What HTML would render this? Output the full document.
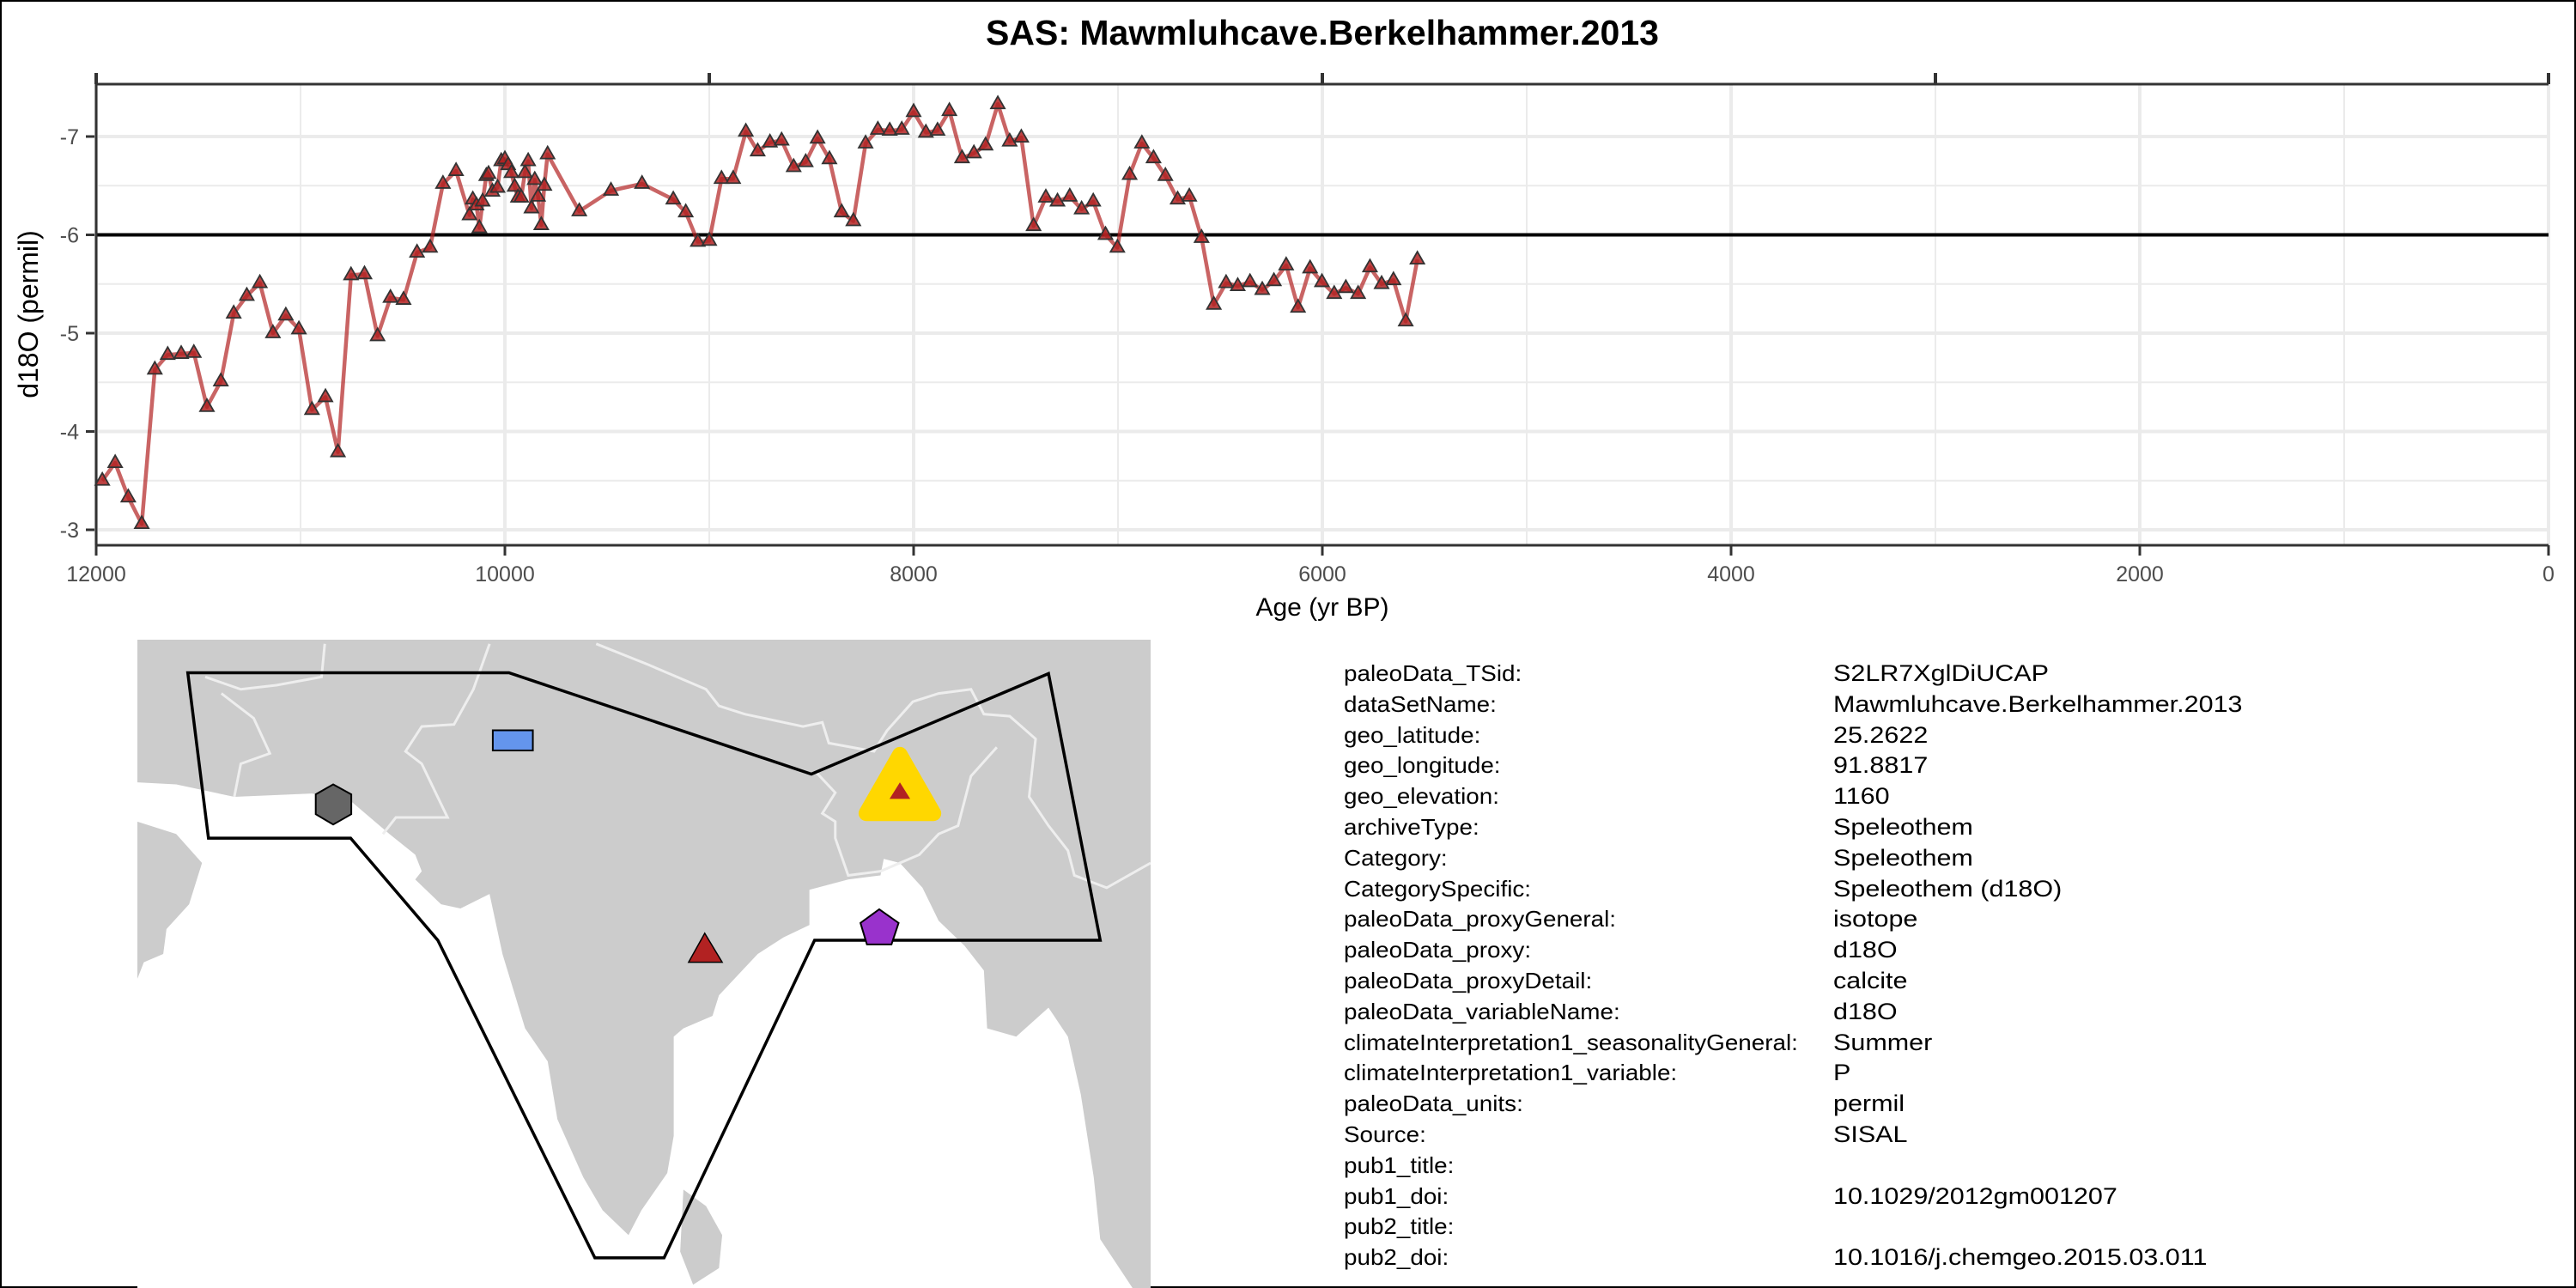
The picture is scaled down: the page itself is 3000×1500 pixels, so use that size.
<!DOCTYPE html>
<html><head><meta charset="utf-8"><style>
html,body{margin:0;padding:0;background:#fff}
#root{position:relative;width:3000px;height:1500px;overflow:hidden;font-family:"Liberation Sans",sans-serif;}
#frame{position:absolute;left:0;top:0;width:2996px;height:1496px;border:2px solid #000;}
#chart{position:absolute;left:0;top:0}
#map{position:absolute;left:160px;top:745px;width:1180px;height:755px}
.meta{position:absolute;font-size:27px;color:#000;white-space:nowrap;line-height:26px;transform:scaleX(1.13);transform-origin:left center}
.meta.lbl{font-size:26px;transform:scaleX(1.07)}
</style></head><body>
<div id="root">
<div id="frame"></div>
<svg id="chart" width="3000" height="1500"></svg>
<svg id="map" viewBox="0 0 1568 1568" preserveAspectRatio="none">
<rect x="0" y="0" width="1568" height="1568" fill="#cccccc"/>
<polygon fill="#ffffff" points="0,345 60,350 150,380 270,372 330,390 390,470 430,520 440,560 430,580 470,640 500,650 545,615 565,760 600,940 635,1020 650,1160 690,1300 720,1380 760,1440 780,1380 820,1290 830,1200 830,960 845,940 890,910 900,860 960,760 1000,720 1040,690 1040,605 1100,580 1150,570 1155,530 1180,540 1215,600 1240,680 1280,740 1310,800 1315,940 1360,960 1410,890 1440,960 1460,1100 1480,1300 1490,1450 1540,1568 0,1568"/>
<polygon fill="#cccccc" points="0,440 60,470 100,540 80,640 45,700 40,760 10,780 0,820"/>
<polygon fill="#cccccc" points="845,1330 880,1370 905,1440 900,1520 860,1560 840,1480"/>
<polyline fill="none" stroke="#eeeeee" stroke-width="3" vector-effect="non-scaling-stroke" points="105,90 160,120 215,110 285,90 290,10"/>
<polyline fill="none" stroke="#eeeeee" stroke-width="3" vector-effect="non-scaling-stroke" points="130,130 180,190 205,275 160,300 150,380"/>
<polyline fill="none" stroke="#eeeeee" stroke-width="3" vector-effect="non-scaling-stroke" points="545,10 520,120 490,205 440,210 415,270 440,300 480,430 400,430 380,470"/>
<polyline fill="none" stroke="#eeeeee" stroke-width="3" vector-effect="non-scaling-stroke" points="710,10 790,60 880,120 900,160 940,180 1030,210 1060,200 1070,250 1140,270 1160,220 1200,150 1240,130 1290,120 1310,180 1350,185 1390,240 1380,380 1410,450 1440,510 1450,570 1500,600 1568,540"/>
<polyline fill="none" stroke="#eeeeee" stroke-width="3" vector-effect="non-scaling-stroke" points="1050,320 1080,370 1060,420 1080,440 1080,480 1100,570 1150,560 1210,520 1240,470 1270,450 1290,330 1330,260"/>
<polygon fill="none" stroke="#000" stroke-width="3.5" vector-effect="non-scaling-stroke" points="78,80 575,80 1043,325 1410,82 1490,727 1048,727 815,1495 708,1495 465,727 330,480 110,480"/>
<polygon fill="#666666" stroke="#000" stroke-width="2" vector-effect="non-scaling-stroke" points="303,350 331,374 331,422 303,447 276,422 276,374"/>
<rect x="550" y="219" width="62" height="49" fill="#6495ed" stroke="#000" stroke-width="2" vector-effect="non-scaling-stroke"/>
<polygon points="878,710 905,780 853,780" fill="#b22222" stroke="#000" stroke-width="1.5" vector-effect="non-scaling-stroke"/>
<polygon points="1148,652 1178,685 1167,737 1129,737 1119,685" fill="#9932cc" stroke="#000" stroke-width="2" vector-effect="non-scaling-stroke"/>
<polygon points="1180,278 1232,420 1128,420" fill="#ffd700" stroke="#ffd700" stroke-width="18" stroke-linejoin="round" vector-effect="non-scaling-stroke"/>
<polygon points="1180,345 1196,385 1164,385" fill="#b22222"/>
</svg>
</div>
<script>
const ages=[11970,11907,11843,11777,11713,11650,11584,11522,11458,11390,11327,11263,11199,11135,11072,11008,10944,10878,10817,10753,10687,10623,10560,10496,10430,10366,10303,10239,10173,10157,10139,10125,10109,10091,10080,10061,10036,10018,10000,9984,9968,9952,9936,9920,9902,9886,9870,9854,9838,9822,9807,9791,9636,9481,9329,9176,9115,9056,9000,8940,8883,8821,8763,8703,8646,8587,8528,8470,8412,8352,8295,8235,8175,8117,8058,8000,7940,7883,7825,7763,7705,7648,7588,7530,7473,7413,7353,7296,7236,7178,7121,7061,7003,6943,6883,6826,6768,6708,6651,6591,6531,6471,6414,6354,6294,6237,6177,6119,6060,6002,5942,5885,5825,5767,5710,5652,5592,5535];
const d18O=[-3.50,-3.68,-3.33,-3.06,-4.63,-4.78,-4.79,-4.80,-4.25,-4.51,-5.20,-5.38,-5.51,-5.00,-5.18,-5.04,-4.22,-4.35,-3.79,-5.59,-5.60,-4.97,-5.36,-5.34,-5.82,-5.87,-6.52,-6.65,-6.20,-6.36,-6.30,-6.07,-6.34,-6.60,-6.62,-6.44,-6.48,-6.75,-6.77,-6.71,-6.63,-6.49,-6.38,-6.38,-6.63,-6.75,-6.27,-6.56,-6.39,-6.10,-6.50,-6.82,-6.24,-6.45,-6.52,-6.36,-6.23,-5.93,-5.94,-6.57,-6.57,-7.05,-6.85,-6.94,-6.96,-6.69,-6.74,-6.98,-6.77,-6.23,-6.14,-6.93,-7.07,-7.06,-7.07,-7.25,-7.04,-7.06,-7.26,-6.78,-6.83,-6.91,-7.33,-6.95,-6.99,-6.09,-6.38,-6.34,-6.39,-6.26,-6.34,-6.00,-5.87,-6.61,-6.93,-6.78,-6.60,-6.36,-6.39,-5.97,-5.29,-5.51,-5.48,-5.52,-5.44,-5.53,-5.69,-5.26,-5.66,-5.52,-5.40,-5.46,-5.40,-5.67,-5.50,-5.54,-5.12,-5.75];
const xTicks=[12000,10000,8000,6000,4000,2000,0];
const xMinor=[11000,9000,7000,5000,3000,1000];
const topTicks=[12000,9000,6000,3000,0];
const yTicks=[-7,-6,-5,-4,-3];
const yMinor=[-6.5,-5.5,-4.5,-3.5];
const refLine=[-6];
const metaLabels=["paleoData_TSid:","dataSetName:","geo_latitude:","geo_longitude:","geo_elevation:","archiveType:","Category:","CategorySpecific:","paleoData_proxyGeneral:","paleoData_proxy:","paleoData_proxyDetail:","paleoData_variableName:","climateInterpretation1_seasonalityGeneral:","climateInterpretation1_variable:","paleoData_units:","Source:","pub1_title:","pub1_doi:","pub2_title:","pub2_doi:"];
const metaValues=["S2LR7XglDiUCAP","Mawmluhcave.Berkelhammer.2013","25.2622","91.8817","1160","Speleothem","Speleothem","Speleothem (d18O)","isotope","d18O","calcite","d18O","Summer","P","permil","SISAL","","10.1029/2012gm001207","","10.1016/j.chemgeo.2015.03.011"];

const NS="http://www.w3.org/2000/svg";
const svg=document.getElementById('chart');
const L=112,R=2968,T=98,B=635;
function xs(a){return L+(12000-a)*(R-L)/12000;}
function ys(v){return 159+(v+7)*114.5;}
function mk(tag,attrs,parent){const e=document.createElementNS(NS,tag);for(const k in attrs)e.setAttribute(k,attrs[k]);(parent||svg).appendChild(e);return e;}

const title=mk('text',{x:(L+R)/2,y:52,'text-anchor':'middle','font-size':41,'font-weight':'bold','font-family':'Liberation Sans, sans-serif'});
title.textContent='SAS: Mawmluhcave.Berkelhammer.2013';



yMinor.forEach(v=>{const e=mk('line',{x1:L,x2:R,y1:ys(v),y2:ys(v),stroke:'#ebebeb','stroke-width':2});

});
xMinor.forEach(a=>{const e=mk('line',{x1:xs(a),x2:xs(a),y1:T,y2:B,stroke:'#ebebeb','stroke-width':2});

});
yTicks.forEach(v=>{const e=mk('line',{x1:L,x2:R,y1:ys(v),y2:ys(v),stroke:'#ebebeb','stroke-width':4});


const t=mk('line',{x1:L-12,x2:L,y1:ys(v),y2:ys(v),stroke:'#333','stroke-width':3});


const lb=mk('text',{x:L-20,y:ys(v)+9,'text-anchor':'end','font-size':25,fill:'#4d4d4d','font-family':'Liberation Sans, sans-serif'});
lb.textContent=String(v);

});
xTicks.forEach(a=>{const e=mk('line',{x1:xs(a),x2:xs(a),y1:T,y2:B,stroke:'#ebebeb','stroke-width':4});


const t=mk('line',{x1:xs(a),x2:xs(a),y1:B,y2:B+12,stroke:'#333','stroke-width':3});


const lb=mk('text',{x:xs(a),y:B+42,'text-anchor':'middle','font-size':25,fill:'#4d4d4d','font-family':'Liberation Sans, sans-serif'});
lb.textContent=String(a);

});
topTicks.forEach(a=>{const t=mk('line',{x1:xs(a),x2:xs(a),y1:T-13,y2:T,stroke:'#333','stroke-width':4});

});
refLine.forEach(v=>{const e=mk('line',{x1:L,x2:R,y1:ys(v),y2:ys(v),stroke:'#000','stroke-width':4});

});
[[L,T,R,T,'top-axis'],[L,T-13,L,B+12,'y-axis'],[L,B,R,B,'x-axis']].forEach(s=>{const e=mk('line',{x1:s[0],y1:s[1],x2:s[2],y2:s[3],stroke:'#333','stroke-width':3});

});

const pts=ages.map((a,i)=>xs(a).toFixed(1)+','+ys(d18O[i]).toFixed(1)).join(' ');
const line=mk('polyline',{points:pts,fill:'none',stroke:'#b22222','stroke-opacity':0.7,'stroke-width':4.5,'stroke-linejoin':'round'});


ages.forEach((a,i)=>{const x=xs(a),y=ys(d18O[i]);
const p=mk('polygon',{points:`${x},${y-9} ${x+8},${y+5} ${x-8},${y+5}`,fill:'#b22222','fill-opacity':0.85,stroke:'#333','stroke-width':1.8});

});

const yl=mk('text',{x:0,y:0,transform:'translate(44,366) rotate(-90)','text-anchor':'middle','font-size':32,'font-family':'Liberation Sans, sans-serif'});
yl.textContent='d18O (permil)';


const xl=mk('text',{x:(L+R)/2,y:717,'text-anchor':'middle','font-size':30,'font-family':'Liberation Sans, sans-serif'});
xl.textContent='Age (yr BP)';



const root=document.getElementById('root');
metaLabels.forEach((t,i)=>{const y=771+i*35.8;
const a=document.createElement('div');a.className='meta lbl';a.style.left='1565px';a.style.top=y+'px';a.textContent=t;


root.appendChild(a);
const b=document.createElement('div');b.className='meta';b.style.left='2135px';b.style.top=y+'px';b.textContent=metaValues[i];


root.appendChild(b);});
</script>
</body></html>
